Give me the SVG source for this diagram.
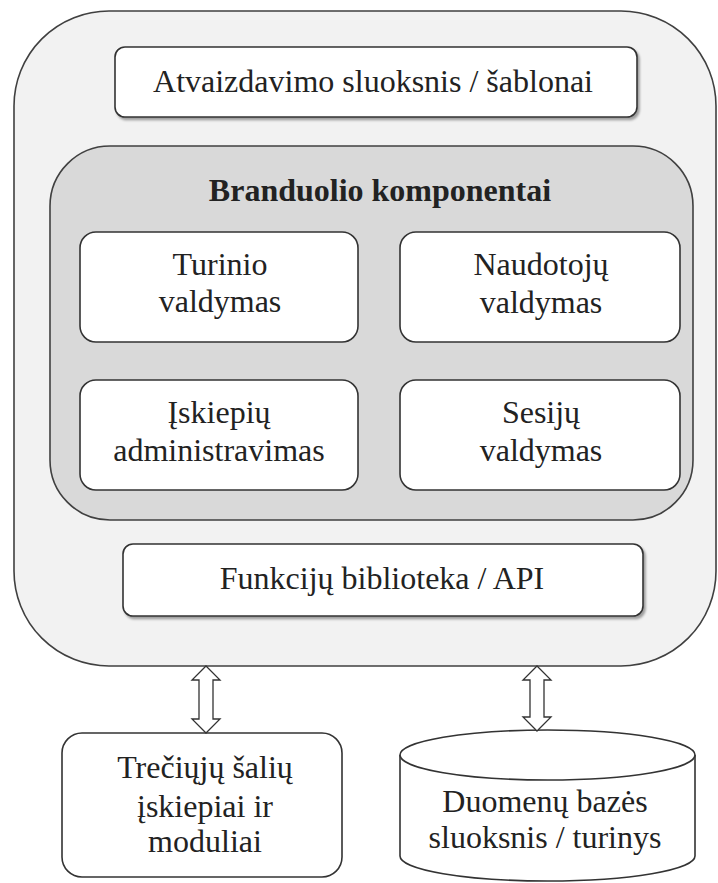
<svg xmlns="http://www.w3.org/2000/svg" width="718" height="883" viewBox="0 0 718 883">
  <defs>
    <filter id="sh" x="-10%" y="-10%" width="120%" height="130%">
      <feDropShadow dx="2" dy="2.5" stdDeviation="1.2" flood-color="#000" flood-opacity="0.35"/>
    </filter>
    <style>
      .outer { fill: #f2f2f2; stroke: #404040; stroke-width: 1.6; }
      .core { fill: #d9d9d9; stroke: #404040; stroke-width: 1.6; }
      .box { fill: #ffffff; stroke: #333333; stroke-width: 1.6; }
      .shadowed { filter: url(#sh); }
      .arrow { fill: #ffffff; stroke: #333333; stroke-width: 1.3; stroke-linejoin: miter; }
      text { font-family: "Liberation Serif", "Times New Roman", serif; font-size: 32px; fill: #222222; text-anchor: middle; }
      .title { font-weight: bold; }
    </style>
  </defs>
  <rect width="718" height="883" fill="#ffffff"/>

  <g id="outer">
    <rect class="outer" x="14" y="11" width="702" height="655" rx="95" ry="95"/>
  </g>

  <g id="presentation">
    <rect class="box shadowed" x="115" y="47" width="522" height="70" rx="10" ry="10"/>
    <text x="373" y="92">Atvaizdavimo sluoksnis / šablonai</text>
  </g>

  <g id="core">
    <rect class="core" x="50" y="146" width="643" height="374" rx="60" ry="60"/>
    <text class="title" x="380" y="201">Branduolio komponentai</text>
  </g>

  <g id="content-management">
    <rect class="box" x="80" y="232" width="278" height="110" rx="16" ry="16"/>
    <text x="220" y="275">Turinio</text>
    <text x="220" y="312">valdymas</text>
  </g>

  <g id="user-management">
    <rect class="box" x="400" y="232" width="280" height="110" rx="16" ry="16"/>
    <text x="541" y="275">Naudotojų</text>
    <text x="541" y="313">valdymas</text>
  </g>

  <g id="plugin-administration">
    <rect class="box" x="80" y="380" width="278" height="110" rx="16" ry="16"/>
    <text x="219" y="423">Įskiepių</text>
    <text x="219" y="461">administravimas</text>
  </g>

  <g id="session-management">
    <rect class="box" x="400" y="380" width="280" height="110" rx="16" ry="16"/>
    <text x="541" y="423">Sesijų</text>
    <text x="541" y="461">valdymas</text>
  </g>

  <g id="function-library">
    <rect class="box shadowed" x="123" y="544" width="520" height="72" rx="10" ry="10"/>
    <text x="382" y="589">Funkcijų biblioteka / API</text>
  </g>

  <g id="third-party">
    <rect class="box" x="62" y="733" width="280" height="144" rx="20" ry="20"/>
    <text x="205" y="778">Trečiųjų šalių</text>
    <text x="205" y="817">įskiepiai ir</text>
    <text x="205" y="852">moduliai</text>
  </g>

  <g id="database">
    <path class="box" d="M400,755 L400,856 A147.5,25 0 0 0 695,856 L695,755 A147.5,25 0 0 0 400,755 Z"/>
    <path class="box" d="M400,755 A147.5,25 0 0 0 695,755" fill="none"/>
    <text x="545" y="812">Duomenų bazės</text>
    <text x="545" y="848">sluoksnis / turinys</text>
  </g>

  <g id="connectors">
    <path class="arrow" d="M206,666 L220,680 L213,680 L213,719 L220,719 L206,733 L192,719 L199,719 L199,680 L192,680 Z"/>
    <path class="arrow" d="M537,666 L551,680 L544,680 L544,717 L551,717 L537,731 L523,717 L530,717 L530,680 L523,680 Z"/>
  </g>
</svg>
